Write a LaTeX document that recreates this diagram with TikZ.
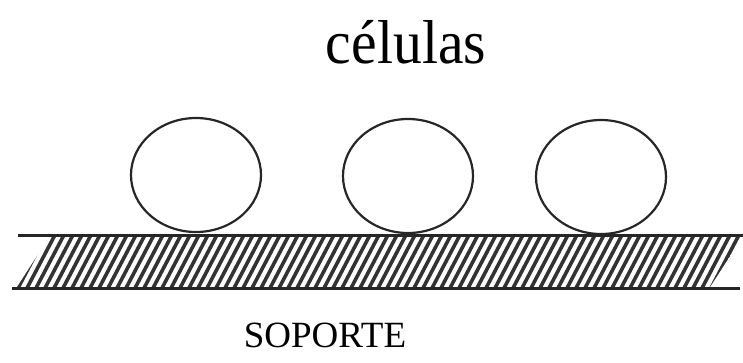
\documentclass[tikz,border=0pt]{standalone}
\usepackage{fontspec}
\setmainfont{Liberation Serif}
\usetikzlibrary{shapes.geometric}
\begin{document}
\begin{tikzpicture}[x=1pt,y=-1pt,
  cell/.style={draw=black!85,line width=2.2pt,ellipse,minimum width=130pt,minimum height=114pt,inner sep=0pt},
  edge/.style={line width=3pt,draw=black!85},
  hatch/.style={line width=3.6pt,draw=black!80}]
\useasboundingbox (0,0) rectangle (743,362);
% hatching
\begin{scope}
\clip (50,236) -- (743,236) -- (710,287) -- (17,287) -- cycle;
\foreach \i in {-5,...,82}{
  \draw[hatch] (17+9*\i,290) -- (47+9*\i,233);
}
\end{scope}
\coordinate (tl) at (18,235);
\coordinate (tr) at (743,235);
\coordinate (bl) at (12,288);
\coordinate (br) at (740,288);
\draw[edge] (tl) -- (tr);
\draw[edge] (bl) -- (br);
% cells
\node[cell] (c1) at (196,175) {};
\node[cell] (c2) at (408,176) {};
\node[cell] (c3) at (601,177) {};
% labels
\node[anchor=base,inner sep=0pt,xscale=0.93] (t) at (406,63) {\fontsize{62}{70}\selectfont células};
\node[anchor=base,inner sep=0pt] (s) at (325,347) {\fontsize{37}{40}\selectfont SOPORTE};
\end{tikzpicture}
\end{document}
